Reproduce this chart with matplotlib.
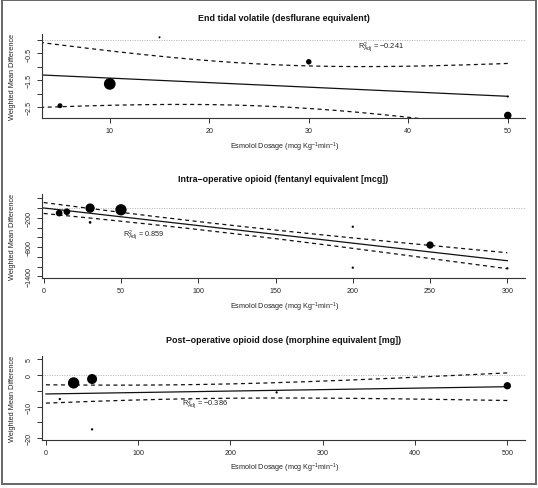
import numpy as np
import matplotlib
matplotlib.use("Agg")
import matplotlib.pyplot as plt
from matplotlib.patches import Rectangle

plt.rcParams['font.family'] = ['Liberation Sans', 'DejaVu Sans']
plt.rcParams['mathtext.fontset'] = 'custom'
plt.rcParams['mathtext.rm'] = 'Liberation Sans'
plt.rcParams['mathtext.it'] = 'Liberation Sans:italic'
plt.rcParams['mathtext.bf'] = 'Liberation Sans:bold'

# ---------------- data ----------------
titles = ["End tidal volatile (desflurane equivalent)",
          "Intra\u2212operative opioid (fentanyl equivalent [mcg])",
          "Post\u2212operative opioid dose (morphine equivalent [mg])"]
xlabel = r"Esmolol Dosage (mcg Kg$^{-1}$min$^{-1}$)"
ylabel = "Weighted Mean Difference"

# panel 1
x1 = [5, 10, 15, 30, 50, 50]
y1 = [-2.44, -1.63, 0.10, -0.81, -2.10, -2.80]
w1 = [5.0, 11.7, 2.0, 5.5, 2.0, 7.5]          # study weight (bubble diameter)
r2_1 = "\u22120.241"
# panel 2
x2 = [10, 15, 30, 30, 50, 200, 200, 250, 300]
y2 = [-103, -75, 0, -294, -35, -383, -1224, -759, -1237]
w2 = [6.7, 6.7, 9.3, 2.7, 11.3, 2.3, 2.3, 7.3, 2.3]
r2_2 = "0.859"
# panel 3
x3 = [15, 30, 50, 50, 250, 500]
y3 = [-7.6, -2.5, -1.27, -17.2, -5.5, -3.4]
w3 = [2.3, 11.3, 10.0, 2.3, 2.3, 7.3]
r2_3 = "\u22120.386"

# meta-regression fits: intercept, slope, CI centre, CI min half-width, CI growth
fit1 = [-1.245, -0.0169, 26.3, 0.776, 0.0397]
fit2 = [2.0, -3.61, 105.0, 81.6, 0.7296]
fit3 = [-6.0, 0.0046, 165.0, 2.23, 0.01121]

xticks = [[10, 20, 30, 40, 50], [0, 50, 100, 150, 200, 250, 300], [0, 100, 200, 300, 400, 500]]
yticks = [[-2.5, -2.0, -1.5, -1.0, -0.5, 0.0],
          [-1400, -1200, -1000, -800, -600, -400, -200, 0, 200],
          [-20, -15, -10, -5, 0, 5]]
ylabeled = [[-2.5, -1.5, -0.5], [-1400, -800, -200], [-20, -10, 0, 5]]

# ---------------- layout ----------------
W, H = 538, 489
fig = plt.figure(figsize=(W / 100, H / 100), dpi=100)

xlims = [(3.16, 51.77), (-1.3, 311.7), (-4.6, 519.6)]
ylims = [(-2.896, 0.223), (-1442, 283), (-20.66, 5.92)]
tops = [35, 195.3, 357.3]
ax_h = 84
left_px, right_px = 41.7, 525.4
labpos = [(37.3, -0.23), (65, -533), (172, -9.0)]
title_y = [18.3, 179.3, 340.7]
xlab_y = [147.7, 307.7, 468.5]

panels = [(x1, y1, w1, fit1, r2_1), (x2, y2, w2, fit2, r2_2), (x3, y3, w3, fit3, r2_3)]
dark = '#222222'

def fy(p):
    return 1 - p / H

for i, (xs, ys, ws, fit, r2) in enumerate(panels):
    b = fy(tops[i] + ax_h)
    ax = fig.add_axes([left_px / W, b, (right_px - left_px) / W, ax_h / H])
    ax.set_xlim(*xlims[i])
    ax.set_ylim(*ylims[i])
    for s in ['top', 'right']:
        ax.spines[s].set_visible(False)
    for s in ['left', 'bottom']:
        ax.spines[s].set_color('#333333')
        ax.spines[s].set_linewidth(0.8)
    ax.axhline(0, color='#b0b0b0', linestyle=(0, (1, 1.5)), lw=0.7, zorder=1)

    a, m, xc, w0, k = fit
    xg = np.linspace(0, max(xs), 200)
    yl = a + m * xg
    wd = np.sqrt(w0 ** 2 + (k * (xg - xc)) ** 2)
    ax.plot(xg, yl, color='#111111', lw=0.9, zorder=2)
    ax.plot(xg, yl + wd, color='#111111', lw=0.9, linestyle=(0, (3.2, 2.8)), zorder=2)
    ax.plot(xg, yl - wd, color='#111111', lw=0.9, linestyle=(0, (3.2, 2.8)), zorder=2)

    sizes = [(d * 0.72) ** 2 for d in ws]
    ax.scatter(xs, ys, s=sizes, color='black', edgecolors='none', zorder=3, clip_on=False)

    ax.text(labpos[i][0], labpos[i][1], r"$\mathrm{R^2_{Adj}}$ = " + r2,
            fontsize=5.3, color=dark, ha='center', va='center')

    ax.set_xticks(xticks[i])
    ax.set_xticklabels([str(t) for t in xticks[i]])
    ax.set_yticks(yticks[i])
    ylabs = []
    for t in yticks[i]:
        if t in ylabeled[i]:
            v = t if isinstance(t, int) else t
            s = ('%g' % v).replace('-', '\u2212')
            ylabs.append(s)
        else:
            ylabs.append('')
    ax.set_yticklabels(ylabs)
    ax.tick_params(axis='both', length=3.6, width=0.7, color='#333333',
                   labelsize=5.1, labelcolor=dark, pad=2.6)
    for lbl in ax.get_yticklabels():
        lbl.set_rotation(90)
        lbl.set_va('center')

    fig.text(283.5 / W, fy(title_y[i]), titles[i], fontsize=6.4, fontweight='bold',
             ha='center', va='center', color='#111111')
    fig.text(284.5 / W, fy(xlab_y[i]), xlabel, fontsize=5.2, ha='center', va='center', color=dark)
    fig.text(12.5 / W, fy(tops[i] + ax_h / 2), ylabel, fontsize=5.3, rotation=90,
             ha='center', va='center', color=dark)

# outer frame
fig.patches.append(Rectangle((1.5 / W, fy(484.5)), (536 - 1.5) / W, (484.5 - 0.8) / H,
                             transform=fig.transFigure, fill=False, edgecolor='#666666',
                             lw=1.4))

fig.savefig('out.png', dpi=100, facecolor='white')
